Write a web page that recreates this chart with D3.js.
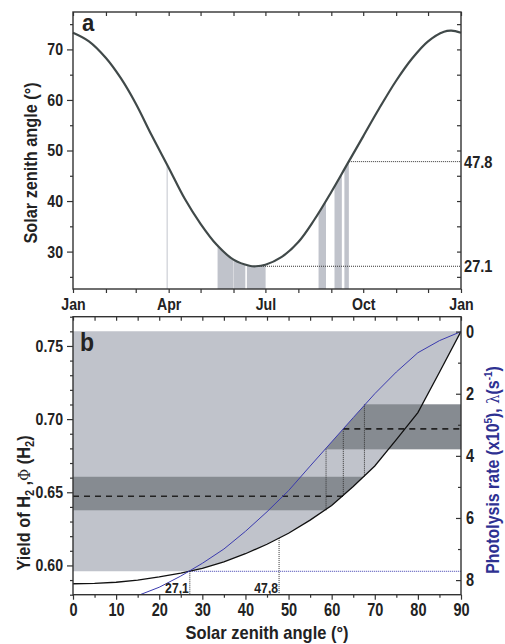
<!DOCTYPE html>
<html>
<head>
<meta charset="utf-8">
<script src="https://cdn.jsdelivr.net/npm/d3@7"></script>
<style>
  body { margin: 0; background: #fff; }
  svg text { font-family: "Liberation Sans", Arial, sans-serif; font-weight: bold; fill: #222; }
</style>
</head>
<body>
<script>
// ---- panel a : noon solar zenith angle over the year ----
const dayOfYear  = [0, 15, 31, 45, 59, 74, 90, 105, 120, 135, 151, 166, 172, 181, 196, 212, 227, 243, 258, 273, 288, 304, 319, 334, 349, 356, 365];
const zenithNoon = [73.3, 71.6, 68.3, 64.3, 59.3, 53.0, 46.6, 40.5, 35.5, 31.4, 28.4, 27.2, 27.1, 27.4, 28.9, 31.9, 36.3, 41.8, 47.3, 52.8, 58.3, 63.8, 68.2, 71.6, 73.5, 73.7, 73.3];
// sampling periods (start day, end day)
const samplingDays = [[88.1, 89.0], [136, 150.6], [150.9, 162.1], [163.6, 181.2], [231, 238], [246, 252.9], [255.3, 259.5]];
const monthStarts = [0, 31, 59, 90, 120, 151, 181, 212, 243, 273, 304, 334, 365];
const monthLabels = ["Jan", "Apr", "Jul", "Oct", "Jan"];
const zenithLimits = [27.1, 47.8];
const zenithLimitStart = [175, 259.5];

// ---- panel b : H2 yield and photolysis rate vs zenith angle ----
const sza = [0, 5, 10, 15, 20, 25, 30, 35, 40, 45, 50, 55, 60, 65, 70, 75, 80, 85, 90];
const yieldH2 = [0.5875, 0.5878, 0.5885, 0.5900, 0.5922, 0.5948, 0.5980, 0.6025, 0.6080, 0.6145, 0.6220, 0.6310, 0.6410, 0.6540, 0.6680, 0.6860, 0.7045, 0.7320, 0.7600];
const szaRate = [10, 15, 20, 25, 30, 35, 40, 45, 50, 55, 60, 65, 70, 75, 80, 85, 90];
const photolysisRate = [8.75, 8.50, 8.23, 7.87, 7.46, 7.00, 6.43, 5.80, 5.12, 4.33, 3.55, 2.77, 2.00, 1.30, 0.68, 0.29, 0.00];
const yieldBand = [0.6377, 0.6606], yieldMean = 0.6473;
const rateBand = [2.34, 3.79], rateMean = 3.13;
const linkAngles = [58.7, 62.7, 67.6];
const linkRates  = [3.79, 3.13, 2.34];
const linkYields = [0.6377, 0.6473, 0.6606];
const yieldFloor = 0.596, yieldTop = 0.76;
const limitYields = [0.596, 0.6187];
const limitLabels = ["27,1", "47,8"];

const W = 505, H = 644;
const light = "#c0c3cb", dark = "#868b91", blue = "#3a3aae";

const svg = d3.select("body").append("svg").attr("width", W).attr("height", H);

// the original font is a narrow bold sans : squeeze the glyphs
function condense(sel, k) {
  sel.each(function () {
    const len = this.getComputedTextLength();
    if (len > 0) d3.select(this).attr("textLength", len * k).attr("lengthAdjust", "spacingAndGlyphs");
  });
}

// Scales
const xA = d3.scaleLinear().domain([0, 365]).range([73, 461]);
const yA = d3.scaleLinear().domain([22.6, 77.4]).range([289, 12]);
const xB = d3.scaleLinear().domain([0, 90]).range([73, 461]);
const yYield = d3.scaleLinear().domain([0.58, 0.77]).range([594.7, 316.7]);
const yRate = d3.scaleLinear().domain([-0.48, 8.47]).range([316.7, 594.7]);

const defs = svg.append("defs");

// ================= panel a =================
const zenith = dayOfYear.map((d, i) => [d, zenithNoon[i]]);
const zenithLine = d3.line().x(d => xA(d[0])).y(d => yA(d[1])).curve(d3.curveCatmullRom.alpha(0.5));
const underCurve = d3.area().x(d => xA(d[0])).y0(yA.range()[0]).y1(d => yA(d[1])).curve(d3.curveCatmullRom.alpha(0.5));

defs.append("clipPath").attr("id", "underA").append("path").attr("d", underCurve(zenith));

svg.append("g").attr("clip-path", "url(#underA)")
  .selectAll("rect").data(samplingDays).enter().append("rect")
    .attr("x", d => xA(d[0]))
    .attr("width", d => xA(d[1]) - xA(d[0]))
    .attr("y", yA.range()[1])
    .attr("height", yA.range()[0] - yA.range()[1])
    .attr("fill", light);

svg.selectAll(".limA").data(zenithLimits).enter().append("line")
  .attr("x1", (d, i) => xA(zenithLimitStart[i])).attr("x2", xA(365))
  .attr("y1", d => yA(d)).attr("y2", d => yA(d))
  .attr("stroke", "#333").attr("stroke-width", 1).attr("stroke-dasharray", "1,1");

svg.append("path").attr("d", zenithLine(zenith))
  .attr("fill", "none").attr("stroke", "#404949").attr("stroke-width", 2.2);

// axes a
function styleAxis(g, size) {
  g.select(".domain").remove();
  g.selectAll("line").attr("stroke", "#333").attr("stroke-width", 1.2);
  g.selectAll("text").attr("font-size", size).attr("fill", "#222").call(condense, 0.83);
}
svg.append("g").attr("transform", "translate(73,0)")
  .call(d3.axisLeft(yA).tickValues([30, 40, 50, 60, 70]).tickSize(6).tickPadding(4))
  .call(g => styleAxis(g, 17));
svg.append("g").attr("transform", "translate(73,0)")
  .call(d3.axisLeft(yA).tickValues([25, 35, 45, 55, 65, 75]).tickSize(3).tickFormat(""))
  .call(g => styleAxis(g, 17));
svg.append("g").attr("transform", "translate(461,0)")
  .call(d3.axisLeft(yA).tickValues([25, 30, 35, 40, 45, 50, 55, 60, 65, 70, 75]).tickSize(4).tickFormat(""))
  .call(g => styleAxis(g, 17));
svg.append("g").attr("transform", "translate(0,289)")
  .call(d3.axisBottom(xA).tickValues(monthStarts).tickSize(4).tickPadding(5)
    .tickFormat((d, i) => i % 3 === 0 ? monthLabels[i / 3] : ""))
  .call(g => styleAxis(g, 17));
svg.append("g").attr("transform", "translate(0,12)")
  .call(d3.axisBottom(xA).tickValues(monthStarts).tickSize(4).tickFormat(""))
  .call(g => styleAxis(g, 17));

svg.append("rect").attr("x", 73).attr("y", 12).attr("width", 388).attr("height", 277)
  .attr("fill", "none").attr("stroke", "#333").attr("stroke-width", 1.4);

svg.selectAll(".limLabA").data(zenithLimits).enter().append("text")
  .attr("x", 464).attr("y", d => yA(d) + 6)
  .attr("font-size", 17)
  .text(d => d.toFixed(1))
  .call(condense, 0.86);

svg.append("text").attr("x", 82).attr("y", 31).attr("font-size", 24).text("a").call(condense, 0.92);
svg.append("text").attr("transform", "translate(37,163) rotate(-90)")
  .attr("text-anchor", "middle").attr("font-size", 18.5)
  .text("Solar zenith angle (°)")
  .call(condense, 0.88);

// ================= panel b =================
defs.append("clipPath").attr("id", "plotB").append("rect")
  .attr("x", 73).attr("y", 316.7).attr("width", 388).attr("height", 278);

const yieldPts = sza.map((d, i) => [d, yieldH2[i]]);
const ratePts = szaRate.map((d, i) => [d, photolysisRate[i]]);

// light region : above the yield curve, floor at yieldFloor
const lightEdge = [[0, yieldFloor], [27.1, yieldFloor]].concat(yieldPts.filter(d => d[0] > 27.1));
const lightArea = d3.area().x(d => xB(d[0])).y0(d => yYield(d[1])).y1(yYield(yieldTop));
defs.append("clipPath").attr("id", "lightB").append("path").attr("d", lightArea(lightEdge));
// region right of (below) the rate curve
const belowRate = d3.area().x(d => xB(d[0])).y0(yRate.range()[1]).y1(d => yRate(d[1]));
defs.append("clipPath").attr("id", "rateB").append("path").attr("d", belowRate(ratePts));

const gb = svg.append("g").attr("clip-path", "url(#plotB)");

gb.append("path").attr("d", lightArea(lightEdge)).attr("fill", light);

gb.append("g").attr("clip-path", "url(#lightB)").append("rect")
  .attr("x", xB(0)).attr("width", xB(90) - xB(0))
  .attr("y", yYield(yieldBand[1])).attr("height", yYield(yieldBand[0]) - yYield(yieldBand[1]))
  .attr("fill", dark);

gb.append("g").attr("clip-path", "url(#rateB)").append("rect")
  .attr("x", xB(0)).attr("width", xB(90) - xB(0))
  .attr("y", yRate(rateBand[0])).attr("height", yRate(rateBand[1]) - yRate(rateBand[0]))
  .attr("fill", dark);

// mean lines
gb.append("line").attr("x1", xB(0)).attr("x2", xB(linkAngles[1]))
  .attr("y1", yYield(yieldMean)).attr("y2", yYield(yieldMean))
  .attr("stroke", "#222").attr("stroke-width", 1.6).attr("stroke-dasharray", "6,5");
gb.append("line").attr("x1", xB(linkAngles[1])).attr("x2", xB(90))
  .attr("y1", yRate(rateMean)).attr("y2", yRate(rateMean))
  .attr("stroke", "#222").attr("stroke-width", 1.6).attr("stroke-dasharray", "6,5");

// links between rate and yield
gb.selectAll(".link").data(linkAngles).enter().append("line")
  .attr("x1", d => xB(d)).attr("x2", d => xB(d))
  .attr("y1", (d, i) => yRate(linkRates[i])).attr("y2", (d, i) => yYield(linkYields[i]))
  .attr("stroke", "#333").attr("stroke-width", 1).attr("stroke-dasharray", "1,1");

// zenith limits
gb.selectAll(".limB").data(zenithLimits).enter().append("line")
  .attr("x1", d => xB(d)).attr("x2", d => xB(d))
  .attr("y1", (d, i) => yYield(limitYields[i])).attr("y2", yYield(0.58))
  .attr("stroke", "#333").attr("stroke-width", 1).attr("stroke-dasharray", "1,1");
gb.append("line").attr("x1", xB(zenithLimits[0])).attr("x2", xB(90))
  .attr("y1", yYield(yieldFloor)).attr("y2", yYield(yieldFloor))
  .attr("stroke", blue).attr("stroke-width", 1).attr("stroke-dasharray", "1,1");

gb.append("path").attr("d", d3.line().x(d => xB(d[0])).y(d => yYield(d[1]))(yieldPts))
  .attr("fill", "none").attr("stroke", "#111").attr("stroke-width", 1.3);
gb.append("path").attr("d", d3.line().x(d => xB(d[0])).y(d => yRate(d[1]))(ratePts))
  .attr("fill", "none").attr("stroke", blue).attr("stroke-width", 1);

gb.selectAll(".limLabB").data(zenithLimits).enter().append("text")
  .attr("x", d => xB(d) - 1).attr("y", 593)
  .attr("text-anchor", "end").attr("font-size", 14.5)
  .text((d, i) => limitLabels[i])
  .call(condense, 0.84);

// axes b
svg.append("g").attr("transform", "translate(73,0)")
  .call(d3.axisLeft(yYield).tickValues([0.60, 0.65, 0.70, 0.75]).tickSize(6).tickPadding(4).tickFormat(d3.format(".2f")))
  .call(g => styleAxis(g, 17));
svg.append("g").attr("transform", "translate(73,0)")
  .call(d3.axisLeft(yYield).tickValues(d3.range(0.58, 0.771, 0.01).filter(v => Math.round(v * 100) % 5 !== 0)).tickSize(3).tickFormat(""))
  .call(g => styleAxis(g, 17));
svg.append("g").attr("transform", "translate(461,0)")
  .call(d3.axisRight(yRate).tickValues([0, 2, 4, 6, 8]).tickSize(-5).tickPadding(5))
  .call(g => styleAxis(g, 17.5));
svg.append("g").attr("transform", "translate(461,0)")
  .call(d3.axisRight(yRate).tickValues([1, 3, 5, 7]).tickSize(-3).tickFormat(""))
  .call(g => styleAxis(g, 17.5));
svg.append("g").attr("transform", "translate(0,594.7)")
  .call(d3.axisBottom(xB).tickValues(d3.range(0, 91, 10)).tickSize(5).tickPadding(4))
  .call(g => styleAxis(g, 17.5));
svg.append("g").attr("transform", "translate(0,594.7)")
  .call(d3.axisBottom(xB).tickValues(d3.range(5, 90, 10)).tickSize(3).tickFormat(""))
  .call(g => styleAxis(g, 17.5));
svg.append("g").attr("transform", "translate(0,316.7)")
  .call(d3.axisBottom(xB).tickValues(d3.range(0, 91, 5)).tickSize(4).tickFormat(""))
  .call(g => styleAxis(g, 17.5));

svg.append("rect").attr("x", 73).attr("y", 316.7).attr("width", 388).attr("height", 278)
  .attr("fill", "none").attr("stroke", "#333").attr("stroke-width", 1.4);

svg.append("text").attr("x", 80).attr("y", 351).attr("font-size", 25).text("b").call(condense, 0.92);

svg.append("text").attr("x", 267).attr("y", 639).attr("text-anchor", "middle")
  .attr("font-size", 18.5).text("Solar zenith angle (°)")
  .call(condense, 0.89);

const yTitle = svg.append("text").attr("transform", "translate(30,503) rotate(-90)")
  .attr("text-anchor", "middle").attr("font-size", 18.5);
yTitle.append("tspan").text("Yield of H");
yTitle.append("tspan").attr("font-size", 12.5).attr("dy", 4).text("2");
yTitle.append("tspan").attr("dy", -4).text(" ,");
yTitle.append("tspan").attr("font-family", "DejaVu Serif, serif").attr("font-weight", "normal").attr("font-size", 17).text("Φ");
yTitle.append("tspan").text(" (H");
yTitle.append("tspan").attr("font-size", 12.5).attr("dy", 4).text("2");
yTitle.append("tspan").attr("dy", -4).text(")");
yTitle.call(condense, 0.88);

const rTitle = svg.append("text").attr("transform", "translate(499,470) rotate(-90)")
  .attr("text-anchor", "middle").attr("font-size", 18.5)
  .style("fill", "#2e3192");
rTitle.append("tspan").text("Photolysis rate (x10");
rTitle.append("tspan").attr("font-size", 11.5).attr("dy", -7).text("5");
rTitle.append("tspan").attr("dy", 7).text("), ");
rTitle.append("tspan").attr("font-family", "DejaVu Serif, serif").attr("font-weight", "normal").attr("font-size", 17).text("λ");
rTitle.append("tspan").text("(s");
rTitle.append("tspan").attr("font-size", 11.5).attr("dy", -7).text("-1");
rTitle.append("tspan").attr("dy", 7).text(")");
rTitle.call(condense, 0.86);
</script>
</body>
</html>
